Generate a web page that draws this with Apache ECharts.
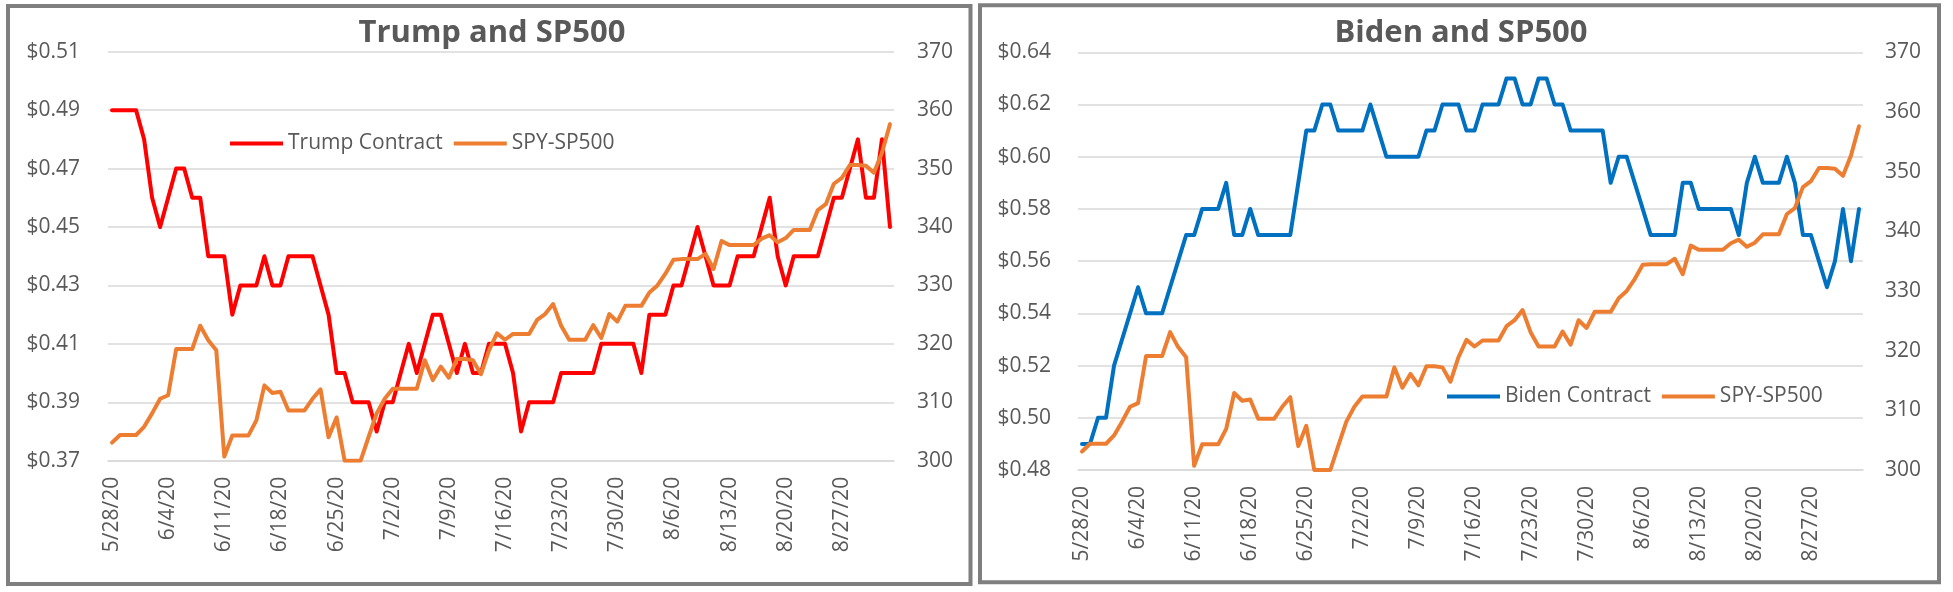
<!DOCTYPE html>
<html>
<head>
<meta charset="utf-8">
<script src="https://cdn.jsdelivr.net/npm/echarts@6/dist/echarts.min.js"></script>
<style>
html,body{margin:0;padding:0;background:#fff;}
#c{width:1953px;height:592px;}
</style>
</head>
<body>
<div id="c"></div>
<script>
const dates = [
'5/28/20','5/29/20','5/30/20','5/31/20',
'6/1/20','6/2/20','6/3/20','6/4/20','6/5/20','6/6/20','6/7/20','6/8/20','6/9/20','6/10/20',
'6/11/20','6/12/20','6/13/20','6/14/20','6/15/20','6/16/20','6/17/20','6/18/20','6/19/20','6/20/20',
'6/21/20','6/22/20','6/23/20','6/24/20','6/25/20','6/26/20','6/27/20','6/28/20','6/29/20','6/30/20',
'7/1/20','7/2/20','7/3/20','7/4/20','7/5/20','7/6/20','7/7/20','7/8/20','7/9/20','7/10/20',
'7/11/20','7/12/20','7/13/20','7/14/20','7/15/20','7/16/20','7/17/20','7/18/20','7/19/20','7/20/20',
'7/21/20','7/22/20','7/23/20','7/24/20','7/25/20','7/26/20','7/27/20','7/28/20','7/29/20','7/30/20','7/31/20',
'8/1/20','8/2/20','8/3/20','8/4/20','8/5/20','8/6/20','8/7/20','8/8/20','8/9/20','8/10/20',
'8/11/20','8/12/20','8/13/20','8/14/20','8/15/20','8/16/20','8/17/20','8/18/20','8/19/20','8/20/20',
'8/21/20','8/22/20','8/23/20','8/24/20','8/25/20','8/26/20','8/27/20','8/28/20','8/29/20','8/30/20','8/31/20',
'9/1/20','9/2/20'
];

const trump = [
0.49,0.49,0.49,0.49,0.48,0.46,0.45,0.46,0.47,0.47,
0.46,0.46,0.44,0.44,0.44,0.42,0.43,0.43,0.43,0.44,
0.43,0.43,0.44,0.44,0.44,0.44,0.43,0.42,0.40,0.40,
0.39,0.39,0.39,0.38,0.39,0.39,0.40,0.41,0.40,0.41,
0.42,0.42,0.41,0.40,0.41,0.40,0.40,0.41,0.41,0.41,
0.40,0.38,0.39,0.39,0.39,0.39,0.40,0.40,0.40,0.40,
0.40,0.41,0.41,0.41,0.41,0.41,0.40,0.42,0.42,0.42,
0.43,0.43,0.44,0.45,0.44,0.43,0.43,0.43,0.44,0.44,
0.44,0.45,0.46,0.44,0.43,0.44,0.44,0.44,0.44,0.45,
0.46,0.46,0.47,0.48,0.46,0.46,0.48,0.45
];

const biden = [
0.49,0.49,0.50,0.50,0.52,0.53,0.54,0.55,0.54,0.54,
0.54,0.55,0.56,0.57,0.57,0.58,0.58,0.58,0.59,0.57,
0.57,0.58,0.57,0.57,0.57,0.57,0.57,0.59,0.61,0.61,
0.62,0.62,0.61,0.61,0.61,0.61,0.62,0.61,0.60,0.60,
0.60,0.60,0.60,0.61,0.61,0.62,0.62,0.62,0.61,0.61,
0.62,0.62,0.62,0.63,0.63,0.62,0.62,0.63,0.63,0.62,
0.62,0.61,0.61,0.61,0.61,0.61,0.59,0.60,0.60,0.59,
0.58,0.57,0.57,0.57,0.57,0.59,0.59,0.58,0.58,0.58,
0.58,0.58,0.57,0.59,0.60,0.59,0.59,0.59,0.60,0.59,
0.57,0.57,0.56,0.55,0.56,0.58,0.56,0.58
];

const spy = [
303.1,304.4,304.4,304.4,305.8,308.1,310.6,311.2,319.1,319.1,
319.1,323.1,320.6,318.9,300.7,304.3,304.3,304.3,306.9,312.9,
311.6,311.8,308.6,308.6,308.6,310.6,312.2,304.0,307.4,300.0,
300.0,300.0,304.1,308.1,310.6,312.3,312.3,312.3,312.3,317.2,
313.8,316.1,314.2,317.4,317.4,317.2,314.8,318.9,321.8,320.7,
321.7,321.7,321.7,324.1,325.1,326.8,323.1,320.7,320.7,320.7,
323.2,321.0,325.1,323.8,326.5,326.5,326.5,328.8,330.0,332.0,
334.4,334.5,334.5,334.5,335.4,332.8,337.6,336.9,336.9,336.9,
336.9,338.0,338.6,337.4,338.1,339.5,339.5,339.5,342.9,343.9,
347.4,348.4,350.6,350.6,350.5,349.3,352.7,357.6
];

const titles = ['Trump and SP500', 'Biden and SP500'];

const FONT = 'Open Sans';
const GREY = '#595959';
const GRID = '#D9D9D9';
const FS = 21;

function xAx(gi){
  return {
    type:'category', gridIndex:gi, data:dates, boundaryGap:true,
    axisLine:{show:true, lineStyle:{color:GRID, width:1.5}},
    axisTick:{show:false},
    splitLine:{show:false},
    axisLabel:{interval:6, rotate:90, margin:16, fontSize:FS, color:GREY, fontFamily:FONT}
  };
}
function yMoney(gi, min, max, margin){
  return {
    type:'value', gridIndex:gi, min:min, max:max, interval:0.02, position:'left',
    axisLine:{show:false}, axisTick:{show:false},
    splitLine:{show:true, lineStyle:{color:GRID, width:1.5}},
    axisLabel:{margin:margin, fontSize:FS, color:GREY, fontFamily:FONT,
      formatter:function(v){return '$' + v.toFixed(2);}}
  };
}
function ySpy(gi, margin){
  return {
    type:'value', gridIndex:gi, min:300, max:370, interval:10, position:'right',
    axisLine:{show:false}, axisTick:{show:false}, splitLine:{show:false},
    axisLabel:{margin:margin, fontSize:FS, color:GREY, fontFamily:FONT}
  };
}
function lineS(name, data, xi, yi, color){
  return {
    type:'line', name:name, data:data, xAxisIndex:xi, yAxisIndex:yi,
    symbol:'none', smooth:false, color:color,
    lineStyle:{width:4, color:color, join:'round', cap:'round'}
  };
}

const chart = echarts.init(document.getElementById('c'), null, {renderer:'canvas'});
chart.setOption({
  animation:false,
  backgroundColor:'#fff',
  title:[
    {text:titles[0], left:487, top:13, textAlign:'center',
     textStyle:{fontFamily:FONT, fontWeight:'bold', fontSize:31, color:GREY}},
    {text:titles[1], left:1456, top:13, textAlign:'center',
     textStyle:{fontFamily:FONT, fontWeight:'bold', fontSize:31, color:GREY}}
  ],
  legend:[
    {data:['Trump Contract','SPY-SP500'], left:230, top:133, padding:0, itemGap:11,
     icon:'rect', itemWidth:53, itemHeight:4,
     textStyle:{fontFamily:FONT, fontSize:FS, color:GREY}},
    {data:['Biden Contract','SPY-SP500'], left:1447, top:386, padding:0, itemGap:11,
     icon:'rect', itemWidth:53, itemHeight:4,
     textStyle:{fontFamily:FONT, fontSize:FS, color:GREY}}
  ],
  grid:[
    {left:108, top:51.7, width:786, height:409, containLabel:false},
    {left:1078, top:52.3, width:785, height:417.7, containLabel:false}
  ],
  xAxis:[xAx(0), xAx(1)],
  yAxis:[
    yMoney(0, 0.37, 0.51, 28),
    ySpy(0, 23),
    yMoney(1, 0.48, 0.64, 27),
    ySpy(1, 22)
  ],
  series:[
    lineS('Trump Contract', trump, 0, 0, '#FF0000'),
    lineS('SPY-SP500', spy, 0, 1, '#ED7D31'),
    lineS('Biden Contract', biden, 1, 2, '#0070C0'),
    lineS('SPY-SP500', spy, 1, 3, '#ED7D31')
  ],
  graphic:[
    {type:'rect', shape:{x:8, y:6, width:962.5, height:578}, z:100,
     style:{fill:'none', stroke:'#7F7F7F', lineWidth:4}},
    {type:'rect', shape:{x:980, y:5.3, width:959, height:577}, z:100,
     style:{fill:'none', stroke:'#7F7F7F', lineWidth:4}}
  ]
});
</script>
</body>
</html>
